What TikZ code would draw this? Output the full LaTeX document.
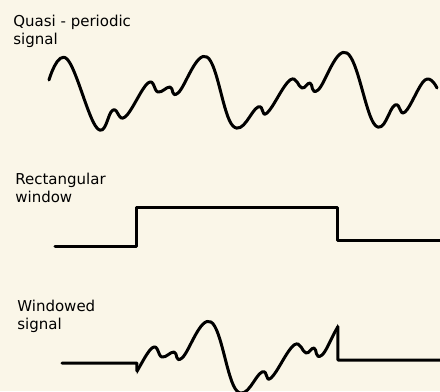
\documentclass[tikz,border=0pt]{standalone}
\usepackage{fontspec}
\setmainfont{DejaVu Sans}
\usetikzlibrary{intersections}
\definecolor{paper}{RGB}{250,246,232}

% one period and a half of the quasi-periodic signal (pixel units)
\def\quasisig{plot[smooth,tension=0.7] coordinates {(49,80) (67,59) (97,128) (113,110) (125,117) (148,83) (158,92) (170,87) (178,93) (207,57) (233,126) (258,107) (267,113) (290,80) (302,88) (310,83) (318,90) (347,53) (375,125) (395,105) (405,112) (425,80) (437,88)}}

\begin{document}
\begin{tikzpicture}[x=0.6pt,y=-0.6pt,
  sig/.style={line width=1.8pt,line join=round,line cap=round},
  lbl/.style={font=\fontsize{9}{10.8}\selectfont,align=left,anchor=north west,inner sep=0pt}]
  \fill[paper] (0,0) rectangle (440,391);
  \useasboundingbox (0,0) rectangle (440,391);

  % labels
  \node[lbl] (qlbl) at (13,15) {Quasi - periodic\\signal};
  \node[lbl] (rlbl) at (15,173) {Rectangular\\window};
  \node[lbl] (wlbl) at (17,300) {Windowed\\signal};

  % quasi-periodic signal
  \draw[sig] \quasisig;

  % rectangular window
  \draw[sig] (55,246) -- (137,246) -- (137,207) -- (338,207) -- (338,240) -- (440,240);

  % windowed signal: the same signal, cut to the window
  \begin{scope}
    \clip (137,0) rectangle (338,391);
    \draw[sig,name path global=wsig,shift={(4,265)}] \quasisig;
  \end{scope}
  \path[name path=cutl] (137,300) -- (137,391);
  \path[name path=cutr] (338,300) -- (338,391);
  \path[name intersections={of=wsig and cutl,by=sl}];
  \path[name intersections={of=wsig and cutr,by=sr}];
  \draw[sig] (62,363) -- (137,363) -- (sl);
  \draw[sig] (sr) -- (338,360) -- (440,360);
\end{tikzpicture}
\end{document}
